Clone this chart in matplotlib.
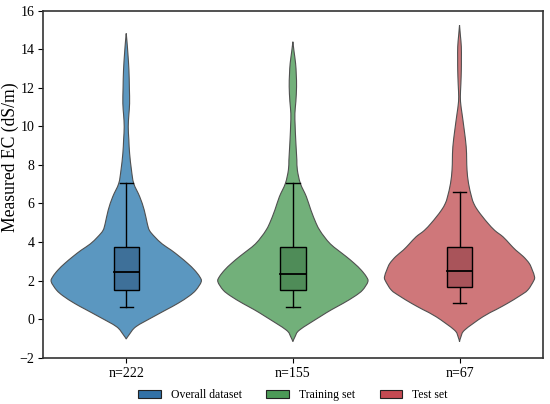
import numpy as np
import matplotlib
matplotlib.use("Agg")
import matplotlib.pyplot as plt
from matplotlib.patches import Patch, Rectangle, PathPatch
from matplotlib.path import Path

plt.rcParams["font.family"] = ["Liberation Serif", "DejaVu Serif"]

# ── data ──────────────────────────────────────────────────────────────────────
groups = ["Overall dataset", "Training set", "Test set"]
tick_labels = ["n=222", "n=155", "n=67"]

# violin outlines: value levels and relative half-width (1 = widest point)
overall_y = [-1.03, -0.8, -0.39, 0.12, 0.5, 0.82, 1.2, 1.51, 1.94, 2.2, 2.55,
             2.89, 3.25, 3.58, 3.9, 4.27, 4.6, 4.97, 5.66, 6.35, 7.04, 7.73,
             8.6, 9.3, 9.98, 10.6, 11.19, 12.0, 12.92, 13.79, 14.4, 14.82]
overall_w = [0.0, 0.04, 0.13, 0.36, 0.54, 0.69, 0.84, 0.93, 1.0, 0.98, 0.91,
             0.82, 0.71, 0.60, 0.48, 0.38, 0.31, 0.28, 0.24, 0.18, 0.10, 0.07,
             0.045, 0.035, 0.027, 0.035, 0.045, 0.042, 0.036, 0.022, 0.01, 0.0]

train_y = [-1.17, -0.9, -0.56, 0.12, 0.5, 0.82, 1.2, 1.51, 1.94, 2.2, 2.55,
           2.89, 3.25, 3.58, 3.9, 4.27, 4.6, 4.97, 5.66, 6.35, 7.04, 7.73,
           8.25, 8.8, 9.46, 10.05, 10.67, 11.3, 12.05, 12.7, 13.27, 13.9, 14.39]
train_w = [0.0, 0.03, 0.09, 0.36, 0.52, 0.67, 0.83, 0.93, 1.0, 0.98, 0.91,
           0.82, 0.71, 0.60, 0.50, 0.42, 0.36, 0.31, 0.24, 0.18, 0.10, 0.06,
           0.053, 0.045, 0.036, 0.03, 0.027, 0.04, 0.049, 0.045, 0.036, 0.015, 0.0]

test_y = [-1.17, -0.9, -0.56, 0.12, 0.5, 0.82, 1.2, 1.51, 2.0, 2.2, 2.55,
          2.89, 3.25, 3.58, 3.9, 4.27, 4.6, 4.97, 5.3, 5.66, 6.0, 6.35, 7.04,
          7.73, 8.3, 8.94, 9.81, 10.67, 11.1, 11.54, 12.2, 12.92, 13.5, 14.13,
          14.7, 15.25]
test_w = [0.0, 0.02, 0.07, 0.31, 0.49, 0.64, 0.80, 0.91, 0.99, 1.0, 0.97,
          0.93, 0.85, 0.75, 0.67, 0.58, 0.47, 0.38, 0.31, 0.24, 0.19, 0.16, 0.12,
          0.10, 0.095, 0.089, 0.063, 0.033, 0.018, 0.011, 0.018, 0.024, 0.025,
          0.024, 0.012, 0.0]

# box stats: lower whisker, Q1, median, Q3, upper whisker
whisk_lo = [0.61, 0.61, 0.85]
q1 = [1.51, 1.51, 1.65]
median = [2.46, 2.34, 2.51]
q3 = [3.76, 3.72, 3.76]
whisk_hi = [7.04, 7.04, 6.61]

violin_colors = ["#5b97c0", "#72b07a", "#cf777a"]
box_colors = ["#3e7099", "#4f8c58", "#a9545a"]
legend_colors = ["#3271a6", "#4c9a57", "#c44a52"]

profiles = [(overall_y, overall_w), (train_y, train_w), (test_y, test_w)]

HALF = 0.45      # half width of widest violin point
BOX_HALF = 0.076
CAP_HALF = 0.04


def smooth_segments(pts):
    """Bezier (CURVE4) codes/verts running through pts (Catmull-Rom tangents)."""
    verts, codes = [], []
    n = len(pts)
    for k in range(n - 1):
        p0 = pts[max(k - 1, 0)]
        p1, p2 = pts[k], pts[k + 1]
        p3 = pts[min(k + 2, n - 1)]
        c1 = p1 + (p2 - p0) / 6
        c2 = p2 - (p3 - p1) / 6
        verts += [c1, c2, p2]
        codes += [Path.CURVE4] * 3
    return verts, codes


def violin_path(pos, ys, ws):
    ys = np.asarray(ys, float)
    hw = np.asarray(ws, float) * HALF
    right = np.column_stack([pos + hw, ys])
    left = np.column_stack([pos - hw, ys])[::-1]
    verts, codes = [right[0]], [Path.MOVETO]
    v, c = smooth_segments(right)
    verts += v; codes += c
    verts.append(left[0]); codes.append(Path.LINETO)
    v, c = smooth_segments(left)
    verts += v; codes += c
    verts.append(right[0]); codes.append(Path.CLOSEPOLY)
    return Path(np.array(verts), codes)


# ── figure ────────────────────────────────────────────────────────────────────
fig = plt.figure(figsize=(5.5, 4.04), dpi=100)
ax = fig.add_axes([0.078, 0.1146, 0.909, 0.8589])

for i, (ys, ws) in enumerate(profiles):
    ax.add_patch(PathPatch(violin_path(i, ys, ws), facecolor=violin_colors[i],
                           edgecolor="#505050", linewidth=0.8, zorder=2))
    # whiskers + caps
    ax.plot([i, i], [whisk_lo[i], q1[i]], color="black", lw=1, zorder=3)
    ax.plot([i, i], [q3[i], whisk_hi[i]], color="black", lw=1, zorder=3)
    for v in (whisk_lo[i], whisk_hi[i]):
        ax.plot([i - CAP_HALF, i + CAP_HALF], [v, v], color="black", lw=1, zorder=3)
    ax.add_patch(Rectangle((i - BOX_HALF, q1[i]), 2 * BOX_HALF, q3[i] - q1[i],
                           facecolor=box_colors[i], edgecolor="black", lw=1, zorder=3))
    ax.plot([i - BOX_HALF, i + BOX_HALF], [median[i], median[i]],
            color="black", lw=1.3, zorder=4)

ax.set_xlim(-0.5, 2.5)
ax.set_ylim(-2, 16)
ax.set_yticks(range(-2, 17, 2))
ax.set_xticks(range(3))
ax.set_xticklabels(tick_labels)
ax.set_ylabel("Measured EC (dS/m)", fontsize=12.7)
ax.yaxis.set_label_coords(-0.047, 0.578)
ax.tick_params(labelsize=10)
ax.tick_params(axis="y", pad=2.5)
for s in ax.spines.values():
    s.set_linewidth(1.2)
    s.set_color("#333333")

handles = [Patch(facecolor=c, edgecolor="#222222", lw=0.8, label=g)
           for c, g in zip(legend_colors, groups)]
ax.legend(handles=handles, loc="upper center", bbox_to_anchor=(0.5, -0.06),
          ncol=3, frameon=False, fontsize=8.5, handlelength=1.9,
          handleheight=0.75, handletextpad=0.85, columnspacing=2.1)

fig.savefig("out.png", dpi=100)
